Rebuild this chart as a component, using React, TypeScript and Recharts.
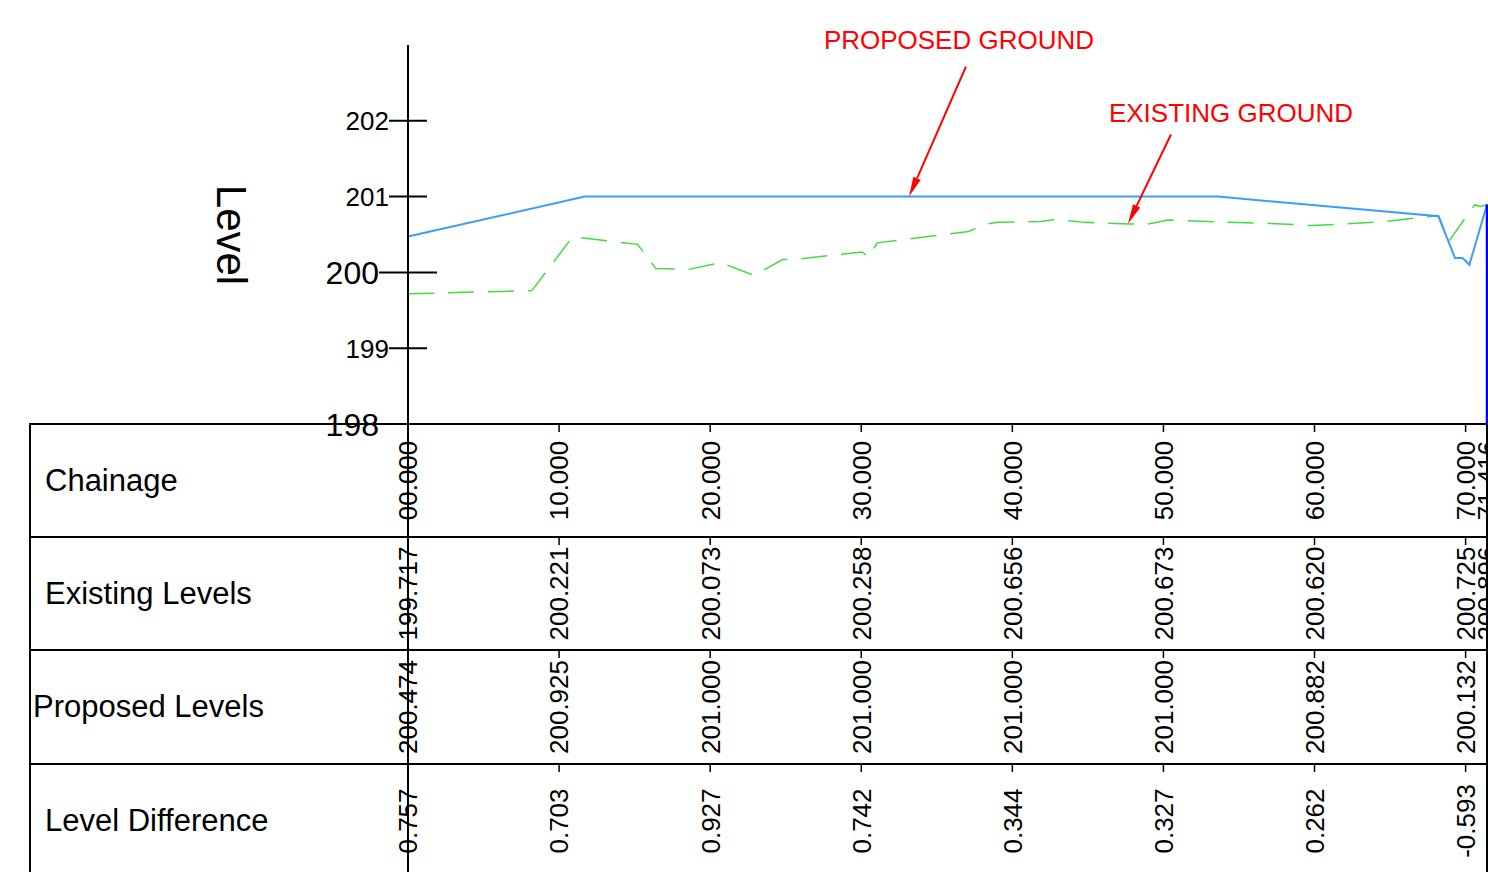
import { ComposedChart, Line, XAxis, YAxis, ReferenceLine } from 'recharts'

// table stations along the section
const CHAINAGES = [0, 10, 20, 30, 40, 50, 60, 70, 71.416]
const CHAINAGE_LABELS = ['00.000', '10.000', '20.000', '30.000', '40.000', '50.000', '60.000', '70.000', '71.416']
const EXISTING_LEVELS = ['199.717', '200.221', '200.073', '200.258', '200.656', '200.673', '200.620', '200.725', '200.896']
const PROPOSED_LEVELS = ['200.474', '200.925', '201.000', '201.000', '201.000', '201.000', '200.882', '200.132']
const LEVEL_DIFFERENCES = ['0.757', '0.703', '0.927', '0.742', '0.344', '0.327', '0.262', '-0.593']
const LEVEL_TICKS = [198, 199, 200, 201, 202]

// existing ground profile (chainage, level)
const EXISTING_CH = [0, 8.2, 10.9, 15.2, 16.4, 18.6, 20.7, 22.9, 24.8, 25.6, 30.05, 30.5, 31.05, 37.1, 38.1, 39.0, 41.9, 42.8, 44.8, 47.7, 49.0, 50.3, 54.3, 56.6, 59.7, 61.0, 64.6, 68.2, 68.9, 70.0, 70.6, 71.0, 71.416]
const EXISTING_LV = [199.717, 199.76, 200.47, 200.37, 200.05, 200.04, 200.13, 199.96, 200.17, 200.17, 200.27, 200.2, 200.39, 200.54, 200.63, 200.66, 200.67, 200.7, 200.66, 200.64, 200.64, 200.69, 200.66, 200.65, 200.62, 200.63, 200.67, 200.75, 200.41, 200.725, 200.89, 200.87, 200.896]

// proposed ground profile (chainage, level)
const PROPOSED_CH = [0, 11.7, 53.6, 68.2, 69.3, 69.8, 70.25, 71.416]
const PROPOSED_LV = [200.474, 201.0, 201.0, 200.74, 200.19, 200.19, 200.1, 200.896]

const existingData = EXISTING_CH.map((ch, i) => ({ ch, lv: EXISTING_LV[i] }))
const proposedData = PROPOSED_CH.map((ch, i) => ({ ch, lv: PROPOSED_LV[i] }))
const startEdge = [{ ch: 0, lv: 198 }, { ch: 0, lv: PROPOSED_LV[0] }]
const endEdge = [{ ch: 71.416, lv: 198 }, { ch: 71.416, lv: PROPOSED_LV[PROPOSED_LV.length - 1] }]

const FONT = '"Liberation Sans", Arial, sans-serif'
const W = 1488
const H = 872
const ROWS = [
  { label: 'Chainage', top: 424, height: 113, x: 45 },
  { label: 'Existing Levels', top: 537, height: 113, x: 45 },
  { label: 'Proposed Levels', top: 650, height: 114, x: 33 },
  { label: 'Level Difference', top: 764, height: 114, x: 45 },
]

function LevelTick(props: any) {
  const { x, y, payload } = props
  const big = payload.value === 200 || payload.value === 198
  const half = big ? 29 : 19
  return (
    <g>
      <line x1={x - half} x2={x + half} y1={y} y2={y} stroke="#000" strokeWidth={2} />
      <text
        x={x - half}
        y={y}
        dy="0.36em"
        textAnchor="end"
        fontSize={big ? 32 : 26}
        fontFamily={FONT}
        fill="#000"
      >
        {payload.value}
      </text>
    </g>
  )
}

function RowTick(props: any) {
  const { x, y, payload, labels, rowHeight } = props
  const i = CHAINAGES.indexOf(payload.value)
  const label = labels[i]
  if (label === undefined) return null
  const cy = y + rowHeight / 2
  return (
    <g>
      <line x1={x} x2={x} y1={y} y2={y + 8} stroke="#000" strokeWidth={1.5} />
      <text
        x={x}
        y={cy}
        dy="0.36em"
        transform={`rotate(-90 ${x} ${cy})`}
        textAnchor="middle"
        fontSize={26}
        fontFamily={FONT}
        fill="#000"
      >
        {label}
      </text>
    </g>
  )
}

function Callout(props: any) {
  const { x1, y1, x2, y2, text, dx, dy } = props
  const ang = Math.atan2(y2 - y1, x2 - x1)
  const len = 20
  const hw = 4
  const bx = x2 - len * Math.cos(ang)
  const by = y2 - len * Math.sin(ang)
  const px = -Math.sin(ang) * hw
  const py = Math.cos(ang) * hw
  return (
    <g>
      <line x1={x1} y1={y1} x2={bx} y2={by} stroke="#ff0000" strokeWidth={2} />
      <polygon points={`${x2},${y2} ${bx + px},${by + py} ${bx - px},${by - py}`} fill="#ff0000" />
      <text x={x1 + dx} y={y1 + dy} textAnchor="middle" fontSize={26} fontFamily={FONT} fill="#ff0000">
        {text}
      </text>
    </g>
  )
}

// the table rows are extra bottom x axes, stacked in id order
const TABLE_AXES = [
  { id: 'b_existing', labels: EXISTING_LEVELS, ticks: CHAINAGES, height: 113, row: 113 },
  { id: 'c_proposed', labels: PROPOSED_LEVELS, ticks: CHAINAGES.slice(0, 8), height: 114, row: 114 },
  { id: 'd_diff', labels: LEVEL_DIFFERENCES, ticks: CHAINAGES.slice(0, 8), height: 108, row: 114 },
]

export default function App() {
  return (
    <div style={{ position: 'absolute', left: 0, top: 0, width: W, height: H, background: '#fff' }}>
      <ComposedChart width={W} height={H} margin={{ top: 45, right: 1, left: 0, bottom: 0 }}>
        <XAxis
          xAxisId="a_chainage"
          dataKey="ch"
          type="number"
          domain={[0, 71.416]}
          ticks={CHAINAGES}
          interval={0}
          height={113}
          axisLine={false}
          tickLine={false}
          tickSize={0}
          tickMargin={0}
          tick={<RowTick labels={CHAINAGE_LABELS} rowHeight={113} />}
        />
        {TABLE_AXES.map((a) => (
          <XAxis
            key={a.id}
            xAxisId={a.id}
            dataKey="ch"
            type="number"
            domain={[0, 71.416]}
            ticks={a.ticks}
            interval={0}
            height={a.height}
            axisLine={false}
            tickLine={false}
            tickSize={0}
            tickMargin={0}
            tick={<RowTick labels={a.labels} rowHeight={a.row} />}
          />
        ))}
        <YAxis
          yAxisId="lv"
          type="number"
          domain={[198, 203]}
          ticks={LEVEL_TICKS}
          interval={0}
          width={408}
          tickLine={false}
          tickSize={0}
          tickMargin={0}
          axisLine={{ stroke: '#000', strokeWidth: 2 }}
          tick={<LevelTick />}
        />

        {TABLE_AXES.map((a) => (
          <Line
            key={`carrier-${a.id}`}
            xAxisId={a.id}
            yAxisId="lv"
            data={existingData}
            dataKey="lv"
            stroke="none"
            dot={false}
            activeDot={false}
            isAnimationActive={false}
          />
        ))}

        <Line
          xAxisId="a_chainage"
          yAxisId="lv"
          data={existingData}
          dataKey="lv"
          type="linear"
          stroke="#40dd40"
          strokeWidth={1.5}
          strokeDasharray="26 14"
          dot={false}
          activeDot={false}
          isAnimationActive={false}
        />
        <Line
          xAxisId="a_chainage"
          yAxisId="lv"
          data={proposedData}
          dataKey="lv"
          type="linear"
          stroke="#3f9cff"
          strokeWidth={2}
          dot={false}
          activeDot={false}
          isAnimationActive={false}
        />
        <Line
          xAxisId="a_chainage"
          yAxisId="lv"
          data={startEdge}
          dataKey="lv"
          type="linear"
          stroke="#000080"
          strokeWidth={2}
          dot={false}
          activeDot={false}
          isAnimationActive={false}
        />
        <Line
          xAxisId="a_chainage"
          yAxisId="lv"
          data={endEdge}
          dataKey="lv"
          type="linear"
          stroke="#0000ff"
          strokeWidth={2.5}
          dot={false}
          activeDot={false}
          isAnimationActive={false}
        />

        <ReferenceLine
          xAxisId="a_chainage"
          yAxisId="lv"
          ifOverflow="visible"
          segment={[{ x: 36.93, y: 202.716 }, { x: 33.16, y: 201.0 }]}
          shape={(p: any) => <Callout {...p} text="PROPOSED GROUND" dx={-7} dy={-18} />}
        />
        <ReferenceLine
          xAxisId="a_chainage"
          yAxisId="lv"
          ifOverflow="visible"
          segment={[{ x: 50.5, y: 201.82 }, { x: 47.65, y: 200.64 }]}
          shape={(p: any) => <Callout {...p} text="EXISTING GROUND" dx={60} dy={-12} />}
        />
      </ComposedChart>

      <svg
        width={W}
        height={H}
        style={{ position: 'absolute', left: 0, top: 0, pointerEvents: 'none' }}
      >
        <text
          x={232}
          y={235}
          dy="0.36em"
          transform="rotate(90 232 235)"
          textAnchor="middle"
          fontSize={42}
          fontFamily={FONT}
          fill="#000"
        >
          Level
        </text>
        {ROWS.map((r) => (
          <g key={r.label}>
            <line x1={30} x2={1487} y1={r.top} y2={r.top} stroke="#000" strokeWidth={2} />
            <text
              x={r.x}
              y={r.top + r.height / 2 + 10}
              fontSize={31}
              fontFamily={FONT}
              fill="#000"
            >
              {r.label}
            </text>
          </g>
        ))}
        <line x1={30} x2={30} y1={423} y2={H} stroke="#000" strokeWidth={2} />
        <line x1={408} x2={408} y1={424} y2={H} stroke="#000" strokeWidth={2} />
        <line x1={1487} x2={1487} y1={424} y2={H} stroke="#000" strokeWidth={2} />
      </svg>
    </div>
  )
}
